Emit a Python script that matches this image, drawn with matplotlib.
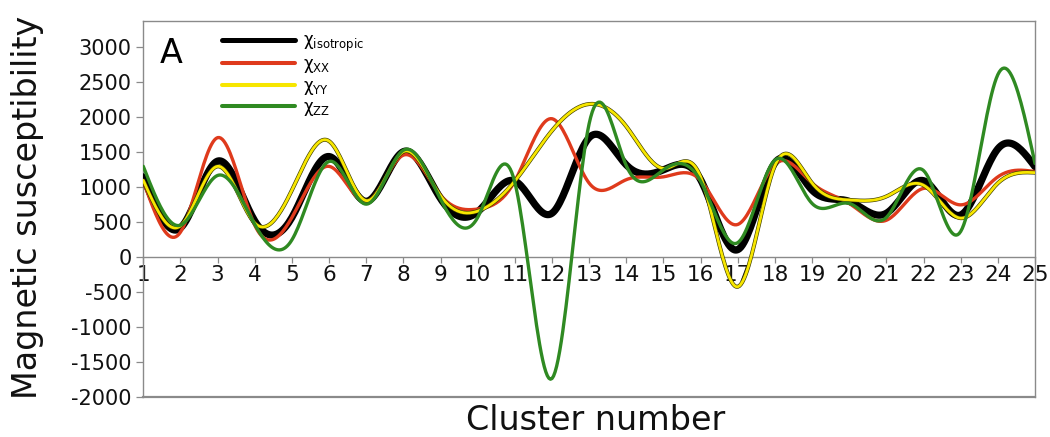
import numpy as np
import matplotlib
matplotlib.use("Agg")
import matplotlib.pyplot as plt
import matplotlib.patheffects as pe

plt.rcParams['axes.unicode_minus'] = False

# ---- data (values read at each cluster) ----
clusters = list(range(1, 26))
chi_iso = [1140, 410, 1365, 510, 560, 1430, 790, 1500, 830, 640, 1080, 620, 1700,
           1310, 1240, 1100, 100, 1340, 950, 790, 620, 1085, 595, 1540, 1285]
chi_xx = [1080, 350, 1700, 450, 560, 1290, 790, 1450, 880, 680, 1080, 1970, 1050,
          1100, 1140, 1090, 460, 1320, 1050, 760, 520, 975, 740, 1140, 1215]
chi_yy = [1090, 440, 1290, 480, 950, 1650, 800, 1500, 870, 650, 1080, 1800, 2180,
          1860, 1260, 1140, -430, 1300, 1050, 810, 860, 1020, 550, 1050, 1200]
chi_zz = [1290, 450, 1160, 460, 240, 1360, 750, 1520, 820, 560, 1060, -1740, 1900,
          1300, 1240, 1080, 200, 1380, 760, 760, 560, 1230, 360, 2600, 1330]
series_labels = [r'$\mathregular{\chi_{isotropic}}$', r'$\mathregular{\chi_{XX}}$',
                 r'$\mathregular{\chi_{YY}}$', r'$\mathregular{\chi_{ZZ}}$']
y_ticks = list(range(-2000, 3001, 500))


def natural_spline(x, y, n=24):
    """Natural cubic spline through the data points (chart's smoothed-line style)."""
    x = np.asarray(x, float)
    y = np.asarray(y, float)
    nn = len(x)
    h = np.diff(x)
    A = np.zeros((nn, nn))
    b = np.zeros(nn)
    A[0, 0] = 1
    A[-1, -1] = 1
    for i in range(1, nn - 1):
        A[i, i - 1] = h[i - 1]
        A[i, i] = 2 * (h[i - 1] + h[i])
        A[i, i + 1] = h[i]
        b[i] = 6 * ((y[i + 1] - y[i]) / h[i] - (y[i] - y[i - 1]) / h[i - 1])
    M = np.linalg.solve(A, b)
    xs = np.linspace(x[0], x[-1], (nn - 1) * n + 1)
    idx = np.clip(np.searchsorted(x, xs) - 1, 0, nn - 2)
    x0, x1 = x[idx], x[idx + 1]
    hh = x1 - x0
    t0, t1 = x1 - xs, xs - x0
    ys = (M[idx] * t0 ** 3 / (6 * hh) + M[idx + 1] * t1 ** 3 / (6 * hh)
          + (y[idx] / hh - M[idx] * hh / 6) * t0 + (y[idx + 1] / hh - M[idx + 1] * hh / 6) * t1)
    return xs, ys


W, H = 1050, 437
fig = plt.figure(figsize=(W / 100, H / 100), dpi=100)
ax = fig.add_axes([143.3 / W, 1 - 396.7 / H, (1035 - 143.3) / W, (396.7 - 20.7) / H])

gray = '#8a8a8a'
styles = [
    dict(color='black', lw=5.2, zorder=3),
    dict(color='#df3a1c', lw=2.4, zorder=4),
    dict(color='#f7e600', lw=2.0, zorder=5,
         path_effects=[pe.Stroke(linewidth=2.9, foreground='#3a3a00'), pe.Normal()]),
    dict(color='#2f8a22', lw=2.4, zorder=6),
]
lines = []
for vals, lab, st in zip([chi_iso, chi_xx, chi_yy, chi_zz], series_labels, styles):
    xs, ys = natural_spline(clusters, vals)
    ln, = ax.plot(xs, ys, label=lab, solid_capstyle='round', **st)
    lines.append(ln)

ax.set_xlim(1, 25)
ax.set_ylim(-2000, 3370)
ax.set_xticks(clusters)
ax.set_xticklabels([str(c) for c in clusters])
ax.set_yticks(y_ticks)

for s in ['left', 'right', 'top', 'bottom']:
    ax.spines[s].set_color(gray)
    ax.spines[s].set_linewidth(1.0)
ax.spines['bottom'].set_position(('data', 0))
ax.axhline(-2000, color=gray, lw=1.6, clip_on=False, zorder=1)

ax.tick_params(axis='x', direction='out', length=4.5, width=0.9, color=gray,
               labelsize=15.5, pad=1.5, labelcolor='#111111')
ax.tick_params(axis='y', direction='out', length=5, width=0.9, color=gray,
               labelsize=15, pad=3.3, labelcolor='#111111')

ax.set_ylabel('Magnetic susceptibility', fontsize=24, color='#111111')
ax.yaxis.set_label_coords(-0.1114, 0.503)
ax.set_xlabel('Cluster number', fontsize=24, color='#111111')
ax.xaxis.set_label_coords(0.507, -0.02)

ax.text(0.0187, 0.8875, 'A', transform=ax.transAxes, fontsize=24, va='baseline',
        ha='left', color='black')

leg = ax.legend(handles=lines, loc='upper left', bbox_to_anchor=(222 / W, 1 - 32 / H),
                bbox_transform=fig.transFigure, frameon=False, fontsize=12,
                handlelength=4.4, handletextpad=0.45, labelspacing=0.08,
                borderpad=0, borderaxespad=0)
for hl, w in zip(leg.get_lines(), [3.6, 2.9, 2.9, 2.9]):
    hl.set_linewidth(w)
    hl.set_path_effects([])

fig.savefig('out.png', dpi=100)
